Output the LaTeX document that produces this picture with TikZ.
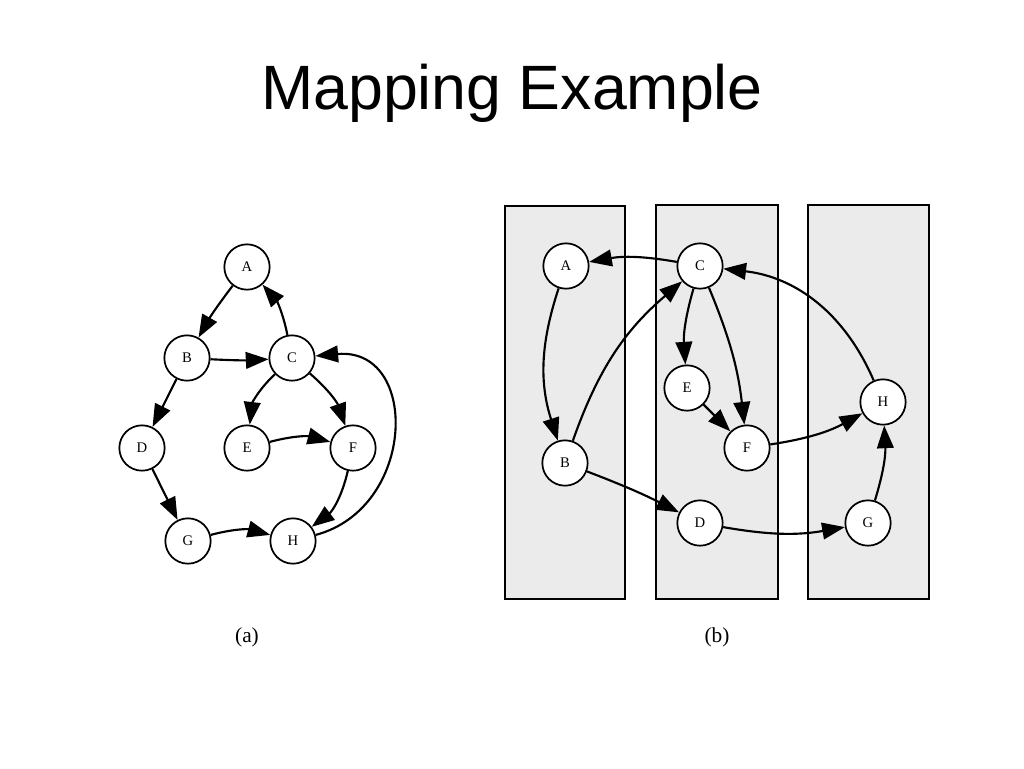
\documentclass[tikz,border=0pt]{standalone}
\usepackage{fontspec}
\setmainfont{Liberation Serif}
\newfontfamily\titlefont{Liberation Sans}
\usetikzlibrary{arrows.meta}
\begin{document}
\begin{tikzpicture}[x=0.75pt,y=-0.75pt,
  vtx/.style={circle,draw,line width=1.3pt,fill=white,minimum size=34pt,inner sep=0pt,font=\fontsize{11}{13}\selectfont},
  edge/.style={line width=1.6pt,-{Triangle[length=17pt,width=12.5pt]}},
  lane/.style={draw,line width=1.2pt,fill=black!8}]
\path[use as bounding box] (0,0) rectangle (1024,768);
\node[font=\titlefont\fontsize{47}{54}\selectfont] (title) at (512,93) {Mapping Example};
% (a)
\node[vtx] (la) at (247,267) {A};
\node[vtx] (lb) at (187,358) {B};
\node[vtx] (lc) at (292,358) {C};
\node[vtx] (ld) at (142,448) {D};
\node[vtx] (le) at (247,448) {E};
\node[vtx] (lf) at (353,448) {F};
\node[vtx] (lg) at (188,541) {G};
\node[vtx] (lh) at (293,541) {H};
\draw[edge] (la) to[bend right=4] (lb);
\draw[edge] (lc) to[bend right=15] (la);
\draw[edge] (lb) to[bend right=3] (lc);
\draw[edge] (lb) -- (ld);
\draw[edge] (lc) to[bend right=20] (le);
\draw[edge] (lc) to[bend left=15] (lf);
\draw[edge] (le) to[bend left=15] (lf);
\draw[edge] (ld) -- (lg);
\draw[edge] (lf) to[bend left=20] (lh);
\draw[edge] (lg) to[bend left=15] (lh);
\draw[edge] (lh) to[out=15,in=5,looseness=1.5] (lc);
\node[font=\fontsize{16}{19}\selectfont] (capa) at (247,637) {(a)};
% (b)
\path[lane] (505,206) rectangle (625,599);
\path[lane] (656,205) rectangle (778,599);
\path[lane] (808,205) rectangle (929,599);
\node[vtx] (ra) at (566,266) {A};
\node[vtx] (rc) at (700,266) {C};
\node[vtx] (re) at (687,388) {E};
\node[vtx] (rf) at (747,448) {F};
\node[vtx] (rh) at (883,402) {H};
\node[vtx] (rb) at (565,463) {B};
\node[vtx] (rd) at (700,523) {D};
\node[vtx] (rg) at (868,523) {G};
\draw[edge] (rc) to[bend right=10] (ra);
\draw[edge] (ra) to[bend right=18] (rb);
\draw[edge] (rb) to[bend left=15] (rc);
\draw[edge] (rc) to[bend right=10] (re);
\draw[edge] (rc) to[bend left=8] (rf);
\draw[edge] (re) -- (rf);
\draw[edge] (rf) to[bend right=10] (rh);
\draw[edge] (rh) to[bend right=30] (rc);
\draw[edge] (rb) to[bend left=3] (rd);
\draw[edge] (rd) to[bend right=10] (rg);
\draw[edge] (rg) to[bend right=10] (rh);
\node[font=\fontsize{16}{19}\selectfont] (capb) at (717,637) {(b)};
\end{tikzpicture}
\end{document}
